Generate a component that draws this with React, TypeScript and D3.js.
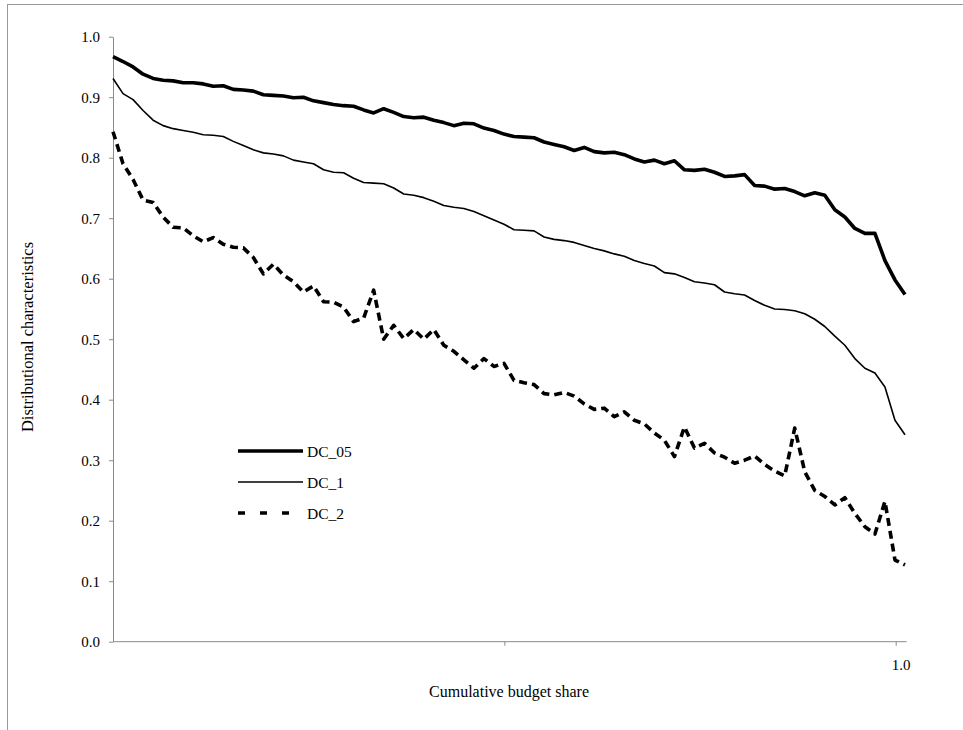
import React, { useRef, useEffect } from 'react';
import * as d3 from 'd3';

// values, one point every ~10px along the axis
const dc05 = [
  0.967, 0.959, 0.950, 0.938, 0.931, 0.928, 0.927, 0.924, 0.924, 0.922,
  0.918, 0.919, 0.913, 0.912, 0.910, 0.904, 0.903, 0.902, 0.899, 0.900,
  0.894, 0.891, 0.888, 0.886, 0.885, 0.879, 0.874, 0.881, 0.875, 0.868,
  0.866, 0.867, 0.862, 0.858, 0.853, 0.857, 0.856, 0.849, 0.845, 0.839,
  0.835, 0.834, 0.833, 0.826, 0.822, 0.818, 0.812, 0.817, 0.810, 0.808,
  0.809, 0.805, 0.798, 0.793, 0.796, 0.790, 0.795, 0.780, 0.779, 0.781,
  0.776, 0.769, 0.770, 0.772, 0.754, 0.753, 0.748, 0.749, 0.744, 0.737,
  0.742, 0.738, 0.714, 0.702, 0.683, 0.675, 0.675, 0.630, 0.598, 0.574,
];

const dc1 = [
  0.931, 0.906, 0.896, 0.878, 0.862, 0.853, 0.848, 0.845, 0.842, 0.838,
  0.837, 0.835, 0.827, 0.820, 0.813, 0.808, 0.806, 0.803, 0.796, 0.793,
  0.790, 0.780, 0.776, 0.775, 0.766, 0.759, 0.758, 0.757, 0.750, 0.740,
  0.738, 0.734, 0.728, 0.721, 0.718, 0.716, 0.711, 0.704, 0.697, 0.690,
  0.681, 0.680, 0.679, 0.669, 0.665, 0.663, 0.660, 0.655, 0.650, 0.646,
  0.641, 0.637, 0.630, 0.625, 0.621, 0.610, 0.608, 0.602, 0.595, 0.593,
  0.590, 0.578, 0.575, 0.573, 0.564, 0.556, 0.550, 0.549, 0.547, 0.542,
  0.533, 0.521, 0.505, 0.490, 0.468, 0.452, 0.444, 0.421, 0.366, 0.342,
];

const dc2 = [
  0.843, 0.790, 0.764, 0.730, 0.726, 0.702, 0.685, 0.684, 0.671, 0.661,
  0.668, 0.657, 0.652, 0.651, 0.635, 0.608, 0.624, 0.606, 0.595, 0.578,
  0.588, 0.562, 0.561, 0.553, 0.529, 0.535, 0.581, 0.500, 0.523, 0.501,
  0.516, 0.500, 0.516, 0.490, 0.480, 0.466, 0.452, 0.468, 0.455, 0.460,
  0.432, 0.428, 0.425, 0.410, 0.408, 0.412, 0.406, 0.393, 0.384, 0.386,
  0.372, 0.380, 0.366, 0.360, 0.345, 0.333, 0.306, 0.355, 0.320, 0.328,
  0.312, 0.305, 0.295, 0.300, 0.307, 0.293, 0.282, 0.274, 0.353, 0.281,
  0.250, 0.240, 0.226, 0.238, 0.212, 0.190, 0.178, 0.232, 0.135, 0.127,
];

const seriesNames = ['DC_05', 'DC_1', 'DC_2'];
const yTicks = [0, 0.1, 0.2, 0.3, 0.4, 0.5, 0.6, 0.7, 0.8, 0.9, 1.0];
const shareTicks = [0.5, 1.0];
const shareLabels = ['', '1.0'];

const FONT = '"Liberation Serif", "Times New Roman", serif';
const AXIS_GREY = '#8a8a8a';

const App = () => {
  const ref = useRef<HTMLDivElement>(null);

  useEffect(() => {
    if (!ref.current) return;
    d3.select(ref.current).selectAll('*').remove();

    const width = 963;
    const height = 730;
    const left = 113;
    const top = 36.7;
    const bottom = 641.7;

    const svg = d3.select(ref.current)
      .append('svg')
        .attr('width', width)
        .attr('height', height)
        .style('position', 'absolute')
        .style('left', 0)
        .style('top', 0)
        .style('background', '#fff');

    // outer frame
    svg.append('rect')
      .attr('x', 7.5).attr('y', 4.5)
      .attr('width', 1000).attr('height', 800)
      .attr('fill', 'none')
      .attr('stroke', '#999')
      .attr('stroke-width', 1);

    const x = d3.scaleLinear().domain([0, dc05.length - 1]).range([left, 905]);
    const share = d3.scaleLinear().domain([0, 1]).range([left, 895.7]);
    const y = d3.scaleLinear().domain([0, 1]).range([bottom, top]);

    // y axis
    const yAxis = svg.append('g')
      .attr('transform', `translate(${left},0)`)
      .call(d3.axisLeft(y).tickValues(yTicks).tickFormat(d3.format('.1f')).tickSize(4).tickSizeOuter(0).tickPadding(9));
    yAxis.select('.domain').attr('stroke', AXIS_GREY);
    yAxis.selectAll('line').attr('stroke', AXIS_GREY);
    yAxis.selectAll('text')
      .attr('fill', '#000')
      .style('font-family', FONT)
      .style('font-size', '15px');

    // x axis
    const xAxis = svg.append('g')
      .attr('transform', `translate(0,${bottom})`)
      .call(d3.axisBottom(share).tickValues(shareTicks)
        .tickFormat((d, i) => shareLabels[i]).tickSize(4).tickSizeOuter(0).tickPadding(14));
    xAxis.select('.domain').remove();
    xAxis.selectAll('line').attr('stroke', AXIS_GREY);
    xAxis.selectAll('text')
      .attr('fill', '#000')
      .attr('dx', 5)
      .style('font-family', FONT)
      .style('font-size', '15px');
    xAxis.append('line')
      .attr('x1', left).attr('x2', 906.7)
      .attr('stroke', AXIS_GREY);

    // lines
    const line = d3.line<number>()
      .x((d, i) => x(i))
      .y(d => y(d));

    const styles = [
      { data: dc05, width: 3.6, dash: null, legendDash: null },
      { data: dc1, width: 1.6, dash: null, legendDash: null },
      { data: dc2, width: 3.6, dash: '8,5', legendDash: '7,15' },
    ];

    styles.forEach(s => {
      svg.append('path')
        .datum(s.data)
        .attr('d', line)
        .attr('fill', 'none')
        .attr('stroke', '#000')
        .attr('stroke-width', s.width)
        .attr('stroke-linejoin', 'round')
        .attr('stroke-dasharray', s.dash);
    });

    // legend
    const legendY = [451, 482, 513];
    const legend = svg.append('g');
    seriesNames.forEach((name, i) => {
      legend.append('line')
        .attr('x1', 238).attr('x2', 303)
        .attr('y1', legendY[i]).attr('y2', legendY[i])
        .attr('stroke', '#000')
        .attr('stroke-width', styles[i].width)
        .attr('stroke-dasharray', styles[i].legendDash);
      legend.append('text')
        .attr('x', 307)
        .attr('y', legendY[i] + 5.5)
        .style('font-family', FONT)
        .style('font-size', '15.5px')
        .text(name);
    });

    // axis titles
    svg.append('text')
      .attr('x', 509)
      .attr('y', 697)
      .attr('text-anchor', 'middle')
      .style('font-family', FONT)
      .style('font-size', '16px')
      .text('Cumulative budget share');

    svg.append('text')
      .attr('transform', 'translate(33,337) rotate(-90)')
      .attr('text-anchor', 'middle')
      .style('font-family', FONT)
      .style('font-size', '16.5px')
      .text('Distributional characteristics');
  }, []);

  return <div ref={ref} />;
};

export default App;
